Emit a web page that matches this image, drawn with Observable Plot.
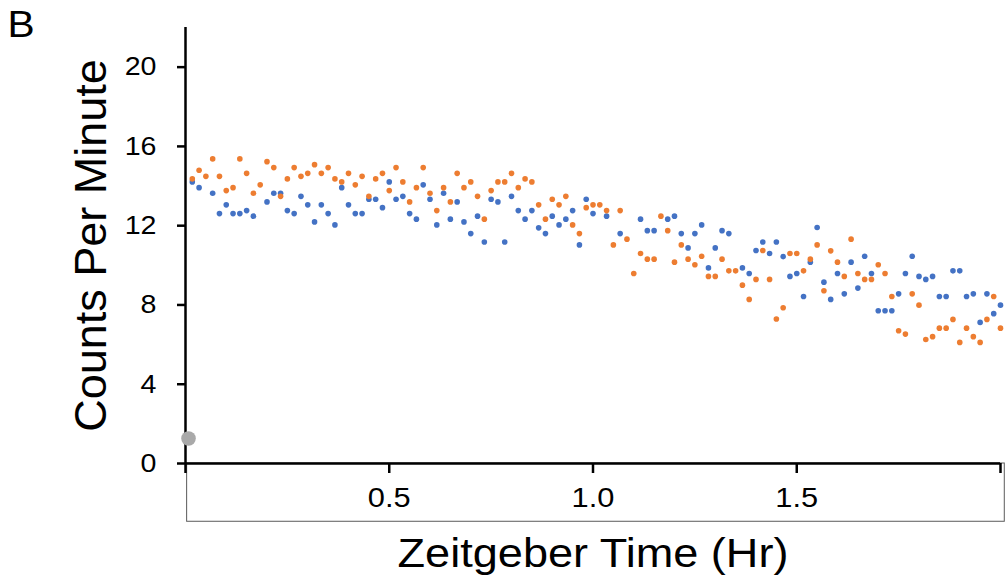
<!DOCTYPE html>
<html>
<head>
<meta charset="utf-8">
<script src="https://cdn.jsdelivr.net/npm/d3@7"></script>
<script src="https://cdn.jsdelivr.net/npm/@observablehq/plot@0.6"></script>
<style>
  html, body { margin: 0; padding: 0; background: #fff; }
  #chart svg { display: block; }
</style>
</head>
<body>
<div id="chart"></div>
<script>
// ---- data ----
const panelLabel = "B";
const yTitle = "Counts Per Minute";
const xTitle = "Zeitgeber Time (Hr)";
const yTicks = [0, 4, 8, 12, 16, 20];
const xTickMarks = [0, 0.5, 1.0, 1.5, 2.0];
const xTickLabels = ["", "0.5", "1.0", "1.5", ""];
// sample minute of each point (1 … 120)
const minutes = d3.range(1, 121);
// blue series (null = hidden under the orange point)
const blueCounts = [
  14.21, 13.92, null, 13.64, 12.61, 13.05, 12.61, 12.61, 12.76, 12.48,
  null, 13.20, 13.64, 13.64, 12.76, 12.61, 13.48, 13.05, 12.19, 13.05,
  12.61, 12.04, 13.92, 13.05, 12.61, 12.61, 13.33, 13.33, 12.91, 14.21,
  13.33, 13.48, 12.61, 12.33, 14.06, 13.33, 12.04, 13.64, 12.33, 13.20,
  12.19, 11.60, 12.48, 11.18, 13.33, 13.20, 11.18, 13.48, 12.76, 12.33,
  12.76, 11.89, 11.60, 12.48, 12.04, 12.33, 12.76, 11.03, 13.33, 12.61,
  null, 12.48, null, 11.60, null, null, 12.33, 11.75, 11.75, null,
  12.33, 12.48, 11.60, 10.88, 11.60, 12.04, 9.87, 10.88, 11.75, 11.60,
  null, 9.87, 9.59, 10.75, 11.18, 10.60, 11.18, 10.44, 9.44, 9.59,
  8.43, 10.16, 11.91, 9.15, 8.28, 9.59, 8.56, 10.16, 8.85, 10.46,
  9.59, 7.71, 7.71, 7.71, 8.56, 9.59, 10.46, 9.44, 9.29, 9.44,
  8.43, 8.43, 9.72, 9.72, 8.43, 8.56, 7.12, 8.56, 7.56, 7.99
];
// orange series
const orangeCounts = [
  14.36, 14.80, 14.49, 15.37, 14.49, 13.77, 13.92, 15.37, 14.64, 13.64,
  14.06, 15.23, 14.93, 13.48, 14.36, 14.93, 14.49, 14.64, 15.08, 14.64,
  14.93, 14.36, 14.21, 14.64, 14.06, 14.49, 13.48, 14.36, 14.64, 13.77,
  14.93, 14.21, 13.20, 13.92, 14.93, 13.64, 12.76, 13.92, 13.20, 14.64,
  13.92, 14.21, 13.48, 12.33, 13.77, 14.21, 14.21, 14.64, 13.92, 14.36,
  14.21, 13.05, 12.33, 13.33, 13.05, 13.48, 12.04, 11.60, 12.91, 13.05,
  13.05, 12.76, 11.03, 12.76, 11.32, 9.59, 10.60, 10.31, 10.31, 12.48,
  11.75, 10.16, 11.03, 10.31, 10.03, 10.46, 9.44, 9.44, 10.31, 9.72,
  9.72, 9.00, 8.28, 9.29, 10.75, 9.29, 7.29, 7.86, 10.60, 10.60,
  9.72, 10.31, 11.03, 8.72, 10.73, 10.16, 9.44, 11.32, 9.59, 9.29,
  9.29, 10.03, 9.59, 8.43, 6.70, 6.53, 8.56, 7.99, 6.26, 6.40,
  6.83, 6.83, 7.27, 6.11, 6.83, 6.40, 6.11, 7.27, 8.43, 6.83
];
// single grey point near the origin
const greyPoint = [{ t: 0.0074, v: 1.26 }];
// outline box drawn under the x axis (data units)
const tableBox = [{ x1: 0.004, x2: 2.0105, y1: -2.94, y2: 0 }];

const colors = { blue: "#4472C4", orange: "#ED7D31", grey: "#A9A9A9" };

const blueRows = minutes.map((m, i) => ({ t: m / 60, v: blueCounts[i] })).filter(d => d.v != null);
const orangeRows = minutes.map((m, i) => ({ t: m / 60, v: orangeCounts[i] }));

const chart = Plot.plot({
  width: 1008,
  height: 577,
  marginLeft: 185,
  marginRight: 8,
  marginTop: 27,
  marginBottom: 114,
  style: { fontFamily: "'Liberation Sans', Arial, sans-serif", background: "#fff", color: "#000", overflow: "visible" },
  x: { domain: [0, 2] },
  y: { domain: [0, 22] },
  marks: [
    Plot.rect(tableBox, { x1: "x1", x2: "x2", y1: "y1", y2: "y2", fill: "none", stroke: "#5a5a5a", strokeWidth: 1 }),
    Plot.axisX({ ticks: xTickMarks, tickSize: 10, tickPadding: 14, fontSize: 28, strokeWidth: 2.5,
                 tickFormat: (d) => xTickLabels[xTickMarks.indexOf(d)], label: null }),
    Plot.axisY({ ticks: yTicks, tickSize: 8, tickPadding: 21, fontSize: 26, strokeWidth: 2.5, label: null }),
    Plot.ruleY([0], { stroke: "#000", strokeWidth: 2.5 }),
    Plot.ruleX([0], { y1: 0, y2: 22, stroke: "#000", strokeWidth: 2.5 }),
    Plot.dot(greyPoint, { x: "t", y: "v", r: 7.3, fill: colors.grey }),
    Plot.dot(blueRows, { x: "t", y: "v", r: 2.8, fill: colors.blue }),
    Plot.dot(orangeRows, { x: "t", y: "v", r: 2.8, fill: colors.orange }),
    Plot.text([yTitle], { frameAnchor: "left", dx: -94, rotate: -90, textAnchor: "middle", lineAnchor: "middle", fontSize: 45, fill: "#000" }),
    Plot.text([xTitle], { frameAnchor: "bottom", dy: 90, textAnchor: "middle", lineAnchor: "middle", fontSize: 41, fill: "#000" }),
    Plot.text([panelLabel], { frameAnchor: "top-left", dx: -178, dy: -2, textAnchor: "start", lineAnchor: "middle", fontSize: 37, fill: "#000" })
  ]
});

document.getElementById("chart").append(chart);
// the reference text is slightly wider than the font's natural width
chart.querySelectorAll("text").forEach(t => {
  const tr = t.getAttribute("transform") || "";
  if (tr.includes("rotate")) return;
  const len = t.getComputedTextLength();
  if (len > 0) {
    t.setAttribute("textLength", (len * 1.1).toFixed(2));
    t.setAttribute("lengthAdjust", "spacingAndGlyphs");
  }
});
</script>
</body>
</html>
